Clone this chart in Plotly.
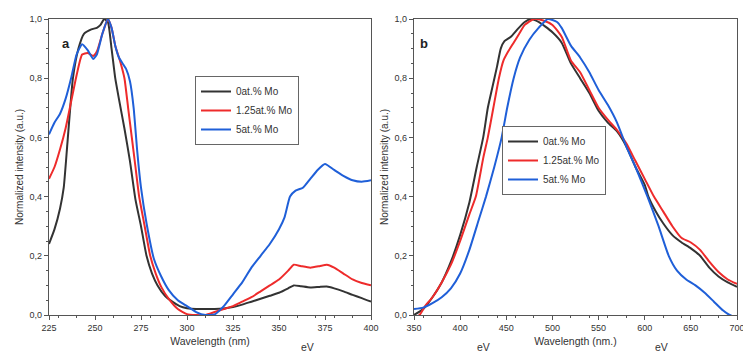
import plotly.graph_objects as go

# ---------------- data ----------------
series_names = ["0at.% Mo", "1.25at.% Mo", "5at.% Mo"]

# Panel a
a_black_x = [225,228,231,233,235,238,241,244,248,251,253,255,257,259,261,263,266,269,272,275,278,281,284,288,292,296,300,305,310,315,320,325,330,335,340,345,350,355,358,362,367,372,376,380,385,390,395,400]
a_black_y = [0.24,0.29,0.36,0.43,0.58,0.8,0.9,0.95,0.965,0.97,0.98,1.0,0.99,0.9,0.8,0.73,0.63,0.52,0.39,0.3,0.2,0.14,0.1,0.065,0.045,0.03,0.023,0.02,0.02,0.02,0.022,0.027,0.035,0.045,0.055,0.065,0.075,0.09,0.1,0.097,0.093,0.095,0.096,0.09,0.08,0.068,0.057,0.045]

a_red_x = [225,228,231,234,237,240,243,246,249,251,254,257,259,261,264,266,268,270,272,274,277,280,283,286,290,295,300,305,310,315,320,325,330,335,340,345,350,355,358,362,367,372,376,380,385,390,395,400]
a_red_y = [0.46,0.5,0.56,0.63,0.72,0.81,0.88,0.885,0.875,0.89,0.95,1.0,0.97,0.91,0.85,0.8,0.7,0.6,0.5,0.4,0.3,0.2,0.14,0.095,0.055,0.02,0.003,0.0,0.0,0.01,0.02,0.03,0.045,0.06,0.08,0.1,0.12,0.15,0.17,0.165,0.16,0.165,0.17,0.16,0.14,0.12,0.108,0.1]

a_blue_x = [225,228,231,234,237,240,243,246,249,251,254,257,259,261,263,265,267,269,271,273,275,278,282,286,290,295,300,305,310,315,320,325,330,335,340,345,350,353,356,359,363,367,371,375,380,385,390,395,400]
a_blue_y = [0.61,0.65,0.68,0.73,0.8,0.88,0.915,0.895,0.865,0.88,0.95,1.0,0.97,0.91,0.87,0.85,0.83,0.79,0.7,0.55,0.43,0.31,0.19,0.13,0.085,0.05,0.03,0.01,0.0,0.002,0.03,0.07,0.11,0.16,0.2,0.24,0.29,0.33,0.4,0.42,0.43,0.46,0.49,0.51,0.49,0.47,0.455,0.45,0.455]

# Panel b
b_black_x = [350,360,370,380,390,400,410,418,425,430,435,440,444,448,455,462,470,477,485,492,500,510,520,530,540,550,560,570,580,590,600,604,612,620,630,640,650,660,670,680,690,700]
b_black_y = [0.0,0.02,0.06,0.11,0.18,0.27,0.38,0.5,0.6,0.7,0.77,0.84,0.9,0.925,0.94,0.965,0.99,1.0,0.99,0.975,0.955,0.92,0.85,0.8,0.75,0.69,0.65,0.62,0.57,0.5,0.44,0.4,0.35,0.31,0.27,0.245,0.225,0.2,0.16,0.13,0.11,0.095]

b_red_x = [350,356,362,370,380,390,400,410,417,425,430,436,442,447,452,458,464,470,480,490,500,510,520,530,540,550,560,570,580,590,600,610,620,630,640,650,660,670,680,690,700]
b_red_y = [-0.01,0.0,0.03,0.06,0.11,0.17,0.25,0.34,0.4,0.53,0.6,0.7,0.8,0.86,0.89,0.92,0.95,0.98,1.0,0.995,0.98,0.94,0.86,0.82,0.76,0.7,0.66,0.625,0.58,0.52,0.46,0.4,0.35,0.3,0.26,0.245,0.22,0.18,0.145,0.12,0.105]

b_blue_x = [350,360,370,380,390,400,410,420,428,437,445,451,458,465,475,485,495,505,510,520,530,540,550,560,570,580,590,603,615,626,635,645,655,665,675,685,692,700]
b_blue_y = [0.02,0.025,0.04,0.06,0.09,0.14,0.22,0.32,0.4,0.5,0.6,0.7,0.8,0.87,0.93,0.97,1.0,0.99,0.97,0.91,0.87,0.82,0.76,0.71,0.65,0.57,0.5,0.4,0.3,0.2,0.15,0.12,0.1,0.075,0.045,0.015,0.0,-0.01]

a_xticks = [225, 250, 275, 300, 325, 350, 375, 400]
b_xticks = [350, 400, 450, 500, 550, 600, 650, 700]
yticks = [0.0, 0.2, 0.4, 0.6, 0.8, 1.0]
ytick_labels = ["0,0", "0,2", "0,4", "0,6", "0,8", "1,0"]

colors = ["#333333", "#ee2b2b", "#1f5fd8"]
FONT = "Liberation Sans, Arial, sans-serif"
TXT = "#333333"

fig = go.Figure()

a_sets = [(a_black_x, a_black_y), (a_red_x, a_red_y), (a_blue_x, a_blue_y)]
b_sets = [(b_black_x, b_black_y), (b_red_x, b_red_y), (b_blue_x, b_blue_y)]

for (x, y), name, c in zip(a_sets, series_names, colors):
    fig.add_trace(go.Scatter(x=x, y=y, name=name, mode="lines",
                             line=dict(color=c, width=2, shape="spline", smoothing=0.5),
                             xaxis="x", yaxis="y", legend="legend"))
for (x, y), name, c in zip(b_sets, series_names, colors):
    fig.add_trace(go.Scatter(x=x, y=y, name=name, mode="lines",
                             line=dict(color=c, width=2, shape="spline", smoothing=0.5),
                             xaxis="x2", yaxis="y2", legend="legend2"))

W, H = 743, 353
ydom = [(H - 315) / H, (H - 19) / H]

axis_common = dict(showline=True, linecolor="#555555", linewidth=1.3, mirror=True,
                   ticks="outside", ticklen=4, tickcolor="#555555", tickwidth=1,
                   showgrid=False, zeroline=False, automargin=False,
                   ticklabeloverflow="allow",
                   tickfont=dict(family=FONT, size=9, color=TXT),
                   minor=dict(ticks="outside", ticklen=2, tickcolor="#555555"))

fig.update_layout(
    width=W, height=H,
    margin=dict(l=0, r=0, t=0, b=0),
    paper_bgcolor="white", plot_bgcolor="white",
    font=dict(family=FONT, color=TXT),
    xaxis=dict(domain=[49 / W, 371 / W], range=[225, 400], tickvals=a_xticks,
               title=dict(text="Wavelength (nm)", font=dict(size=10.5, family=FONT, color=TXT), standoff=5),
               anchor="y", **axis_common),
    yaxis=dict(domain=ydom, range=[0, 1], tickvals=yticks, ticktext=ytick_labels,
               title=dict(text="Normalized intensity (a.u.)", font=dict(size=10, family=FONT, color=TXT), standoff=4),
               anchor="x", **axis_common),
    xaxis2=dict(domain=[414 / W, 737 / W], range=[350, 700], tickvals=b_xticks,
                title=dict(text="Wavelength (nm.)", font=dict(size=10.5, family=FONT, color=TXT), standoff=5),
                anchor="y2", **axis_common),
    yaxis2=dict(domain=ydom, range=[0, 1], tickvals=yticks, ticktext=ytick_labels,
                title=dict(text="Normalized intensity (a.u.)", font=dict(size=10, family=FONT, color=TXT), standoff=4),
                anchor="x2", **axis_common),
    legend=dict(x=195 / W, y=(H - 76) / H, xanchor="left", yanchor="top",
                bgcolor="white", bordercolor="#666666", borderwidth=1,
                font=dict(family=FONT, size=10, color=TXT), tracegroupgap=0,
                itemwidth=30),
    legend2=dict(x=502 / W, y=(H - 126) / H, xanchor="left", yanchor="top",
                 bgcolor="white", bordercolor="#666666", borderwidth=1,
                 font=dict(family=FONT, size=10, color=TXT), tracegroupgap=0,
                 itemwidth=30),
    showlegend=True,
)

fig.add_annotation(x=60 / W, y=(H - 34) / H, xref="paper", yref="paper", text="<b>a</b>",
                   showarrow=False, font=dict(size=13, family=FONT, color="#222222"))
fig.add_annotation(x=424 / W, y=(H - 34) / H, xref="paper", yref="paper", text="<b>b</b>",
                   showarrow=False, font=dict(size=13, family=FONT, color="#222222"))
for ex in [307, 483, 670]:
    fig.add_annotation(x=ex / W, y=0, xref="paper", yref="paper", text="eV",
                       showarrow=False, yanchor="bottom", yshift=-2,
                       font=dict(size=10.5, family=FONT, color=TXT))

fig.write_html("out.html", config={"displayModeBar": False},
               post_script="document.body.style.margin='0';document.body.style.overflow='hidden';")
